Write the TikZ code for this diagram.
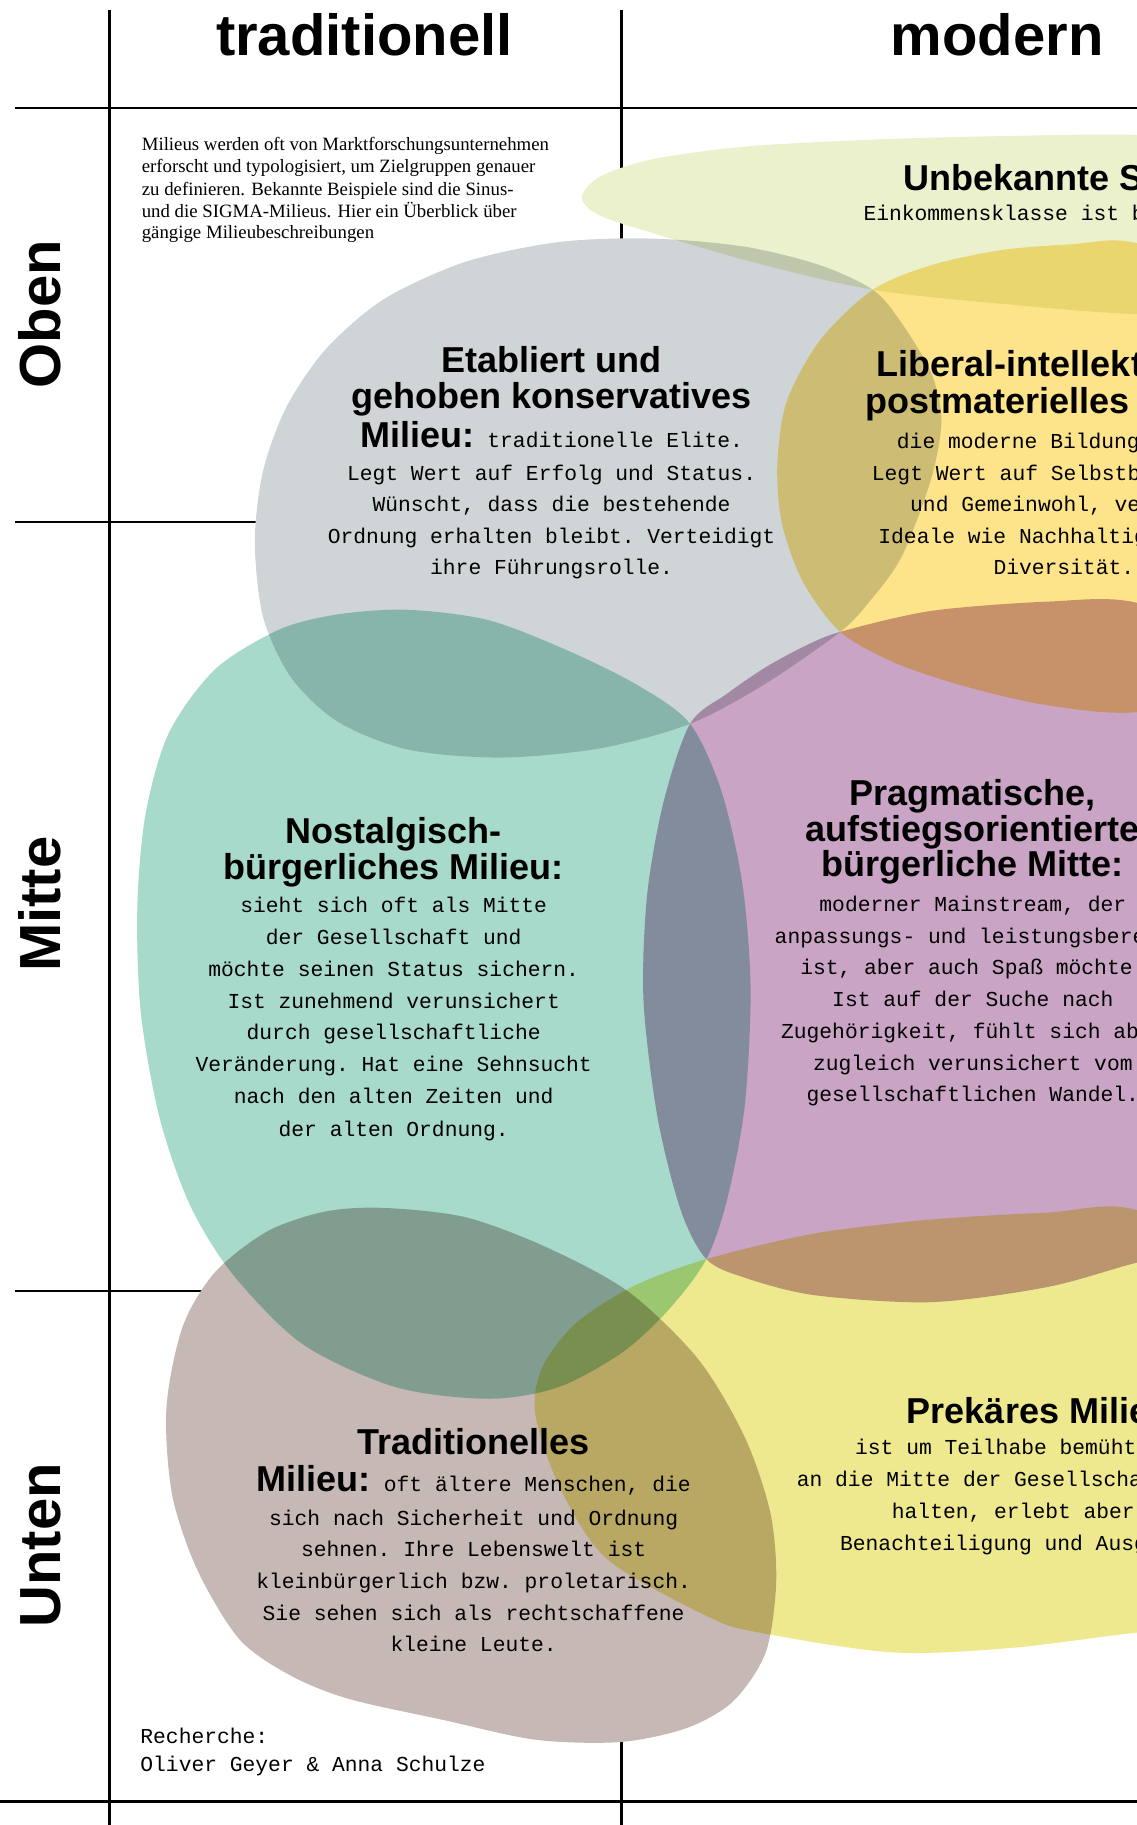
\documentclass[tikz,border=0pt]{standalone}
\usepackage{fontspec}
\setmainfont{Liberation Sans}
\setmonofont{Liberation Mono}
\newfontfamily\seriffont{Liberation Serif}
\newcommand\monotxt{\ttfamily\fontsize{21.3}{31.7}\selectfont}
\definecolor{cgray}{HTML}{CFD4D6}
\definecolor{cteal}{HTML}{A7DACB}
\definecolor{cpurple}{HTML}{C9A4C4}
\definecolor{clib}{HTML}{FDE48B}
\definecolor{cgreen}{HTML}{EBF0CD}
\definecolor{cprek}{HTML}{EEE98E}
\definecolor{cbrown}{HTML}{C6B8B4}
\begin{document}
\begin{tikzpicture}[x=1.1637pt,y=-1.1637pt,
  head/.style={font=\fontsize{58}{60}\selectfont\bfseries, anchor=base, inner sep=0pt},
  ttl/.style={font=\fontsize{36}{37}\selectfont\bfseries, anchor=base, inner sep=0pt},
  body/.style={font=\monotxt, anchor=base, inner sep=0pt},
  intro/.style={font=\seriffont\fontsize{18.8}{22.2}\selectfont, anchor=base west, inner sep=0pt},
  gridthick/.style={line width=2.5pt, black},
  gridthin/.style={line width=1.8pt, black}]
\useasboundingbox (0,0) rectangle (977.05,1568.3);
\clip (0,0) rectangle (977.05,1568.3);

% grid
\coordinate (v1t) at (94,8.6);    \coordinate (v1b) at (94,1570);
\coordinate (v2t) at (534,8.6);   \coordinate (v2b) at (534,1570);
\coordinate (h1l) at (12.5,92.8); \coordinate (h1r) at (980,92.8);
\coordinate (h2l) at (12.9,448.6); \coordinate (h2r) at (300,448.6);
\coordinate (h3l) at (12.9,1109.4); \coordinate (h3r) at (300,1109.4);
\coordinate (h4l) at (0,1548.3); \coordinate (h4r) at (980,1548.3);
\draw[gridthick] (v1t) -- (v1b);
\draw[gridthick] (v2t) -- (v2b);
\draw[gridthick] (h1l) -- (h1r);
\draw[gridthin] (h2l) -- (h2r);
\draw[gridthin] (h3l) -- (h3r);
\draw[gridthick] (h4l) -- (h4r);

% shapes
\path[save path=\pGreen] plot[smooth cycle] coordinates {(500,170) (515,152) (560,137) (640,126) (750,120) (860,117) (977,116) (1080,125) (1130,195) (1080,268) (977,270) (860,261) (750,249) (650,226) (560,200) (515,185)};
\path[save path=\pGray] plot[smooth cycle] coordinates {(560,205) (640,212) (705,228) (750,249) (773,275) (800,320) (809,361) (800,412) (775,478) (748,516) (722,543) (657,588) (593,622) (516,643) (430,651) (350,644) (290,620) (250,582) (226,530) (219,465) (226,405) (246,350) (280,300) (330,257) (400,225) (480,208)};
\path[save path=\pLib] plot[smooth cycle] coordinates {(750,249) (800,228) (860,215) (920,210) (977,209) (1080,250) (1130,420) (1080,590) (977,612) (900,606) (830,590) (770,570) (722,543) (690,500) (672,450) (668,400) (676,345) (705,292)};
\path[save path=\pTeal] plot[smooth cycle] coordinates {(350,524) (420,533) (490,560) (550,590) (593,622) (620,680) (638,760) (645,850) (640,950) (625,1030) (607,1082) (575,1125) (535,1162) (480,1192) (420,1202) (340,1192) (260,1155) (200,1095) (163,1035) (137,960) (121,870) (118,780) (125,700) (145,630) (185,575) (240,541) (290,528)};
\path[save path=\pPurple] plot[smooth cycle] coordinates {(593,622) (625,596) (657,574) (690,556) (722,543) (800,525) (900,517) (977,518) (1080,560) (1130,800) (1080,1060) (977,1085) (900,1106) (800,1119) (700,1113) (640,1098) (607,1082) (585,1040) (565,960) (553,860) (556,770) (570,690)};
\path[save path=\pBrown] plot[smooth cycle] coordinates {(330,1038) (400,1046) (470,1072) (540,1110) (600,1168) (640,1235) (662,1300) (667,1360) (658,1420) (630,1462) (590,1485) (533,1497) (460,1495) (381,1478) (300,1460) (250,1440) (206,1409) (170,1350) (148,1285) (143,1210) (157,1140) (185,1093) (230,1058) (280,1041)};
\path[save path=\pPrek] plot[smooth cycle] coordinates {(607,1082) (700,1060) (800,1048) (900,1042) (977,1040) (1080,1100) (1130,1260) (1080,1395) (977,1403) (870,1416) (767,1420) (653,1403) (610,1390) (522,1340) (481,1278) (460,1215) (466,1175) (495,1137) (545,1105)};

\fill[white, use path=\pGreen];
\fill[white, use path=\pGray];
\fill[white, use path=\pLib];
\fill[white, use path=\pTeal];
\fill[white, use path=\pPurple];
\fill[white, use path=\pBrown];
\fill[white, use path=\pPrek];
\begin{scope}[blend mode=multiply]
\fill[cgreen, use path=\pGreen];
\fill[cgray, use path=\pGray];
\fill[clib, use path=\pLib];
\fill[cteal, use path=\pTeal];
\fill[cpurple, use path=\pPurple];
\fill[cbrown, use path=\pBrown];
\fill[cprek, use path=\pPrek];
\end{scope}

% headers
\node[head] (htrad) at (313,47.3) {traditionell};
\node[head] (hmod) at (857,47.3) {modern};
\node[head, rotate=90] (roben) at (52.4,270) {Oben};
\node[head, rotate=90] (rmitte) at (52.4,777) {Mitte};
\node[head, rotate=90] (runten) at (52.4,1328) {Unten};

% intro
\node[intro] (i1) at (121.7,128.9) {Milieus werden oft von Marktforschungsunternehmen};
\node[intro] (i2) at (121.7,148.4) {erforscht und typologisiert, um Zielgruppen genauer};
\node[intro] (i3) at (121.7,167.6) {zu definieren. Bekannte Beispiele sind die Sinus-};
\node[intro] (i4) at (121.7,186.7) {und die SIGMA-Milieus. Hier ein Überblick über};
\node[intro] (i5) at (121.7,204.8) {gängige Milieubeschreibungen};

% Unbekannte
\node[ttl, anchor=base west] (u1) at (776.2,163.3) {Unbekannte Schicht:};
\node[body, anchor=base west] (u2) at (741.9,189.5) {Einkommensklasse ist bekannt};

% Etabliert
\node[ttl] (e1) at (474,320.3) {Etabliert und};
\node[ttl] (e2) at (474,350.9) {gehoben konservatives};
\node[ttl] (e3) at (474,384.3) {Milieu: {\monotxt\mdseries traditionelle Elite.}};
\node[body] (e4) at (474,412.5) {Legt Wert auf Erfolg und Status.};
\node[body] (e5) at (474,439.7) {Wünscht, dass die bestehende};
\node[body] (e6) at (474,466.9) {Ordnung erhalten bleibt. Verteidigt};
\node[body] (e7) at (474,494.1) {ihre Führungsrolle.};

% Liberal
\node[ttl, anchor=base west] (l1) at (753.4,323.7) {Liberal-intellektuelles};
\node[ttl, anchor=base west] (l2) at (743.3,355) {postmaterielles Milieu:};
\node[body, anchor=base west] (l3) at (770.6,385) {die moderne Bildungselite.};
\node[body, anchor=base west] (l4) at (749.1,412.5) {Legt Wert auf Selbstbestimmung};
\node[body, anchor=base west] (l5) at (782,439.7) {und Gemeinwohl, vertritt};
\node[body, anchor=base west] (l6) at (754.7,466.9) {Ideale wie Nachhaltigkeit und};
\node[body, anchor=base west] (l7) at (853.6,494.1) {Diversität.};

% Nostalgisch
\node[ttl] (n1) at (338.3,724.7) {Nostalgisch-};
\node[ttl] (n2) at (338.3,756.2) {bürgerliches Milieu:};
\node[body] (n3) at (338.3,784.3) {sieht sich oft als Mitte};
\node[body] (n4) at (338.3,812) {der Gesellschaft und};
\node[body] (n5) at (338.3,839.3) {möchte seinen Status sichern.};
\node[body] (n6) at (338.3,866.5) {Ist zunehmend verunsichert};
\node[body] (n7) at (338.3,893.7) {durch gesellschaftliche};
\node[body] (n8) at (338.3,920.9) {Veränderung. Hat eine Sehnsucht};
\node[body] (n9) at (338.3,948.7) {nach den alten Zeiten und};
\node[body] (n10) at (338.3,976.2) {der alten Ordnung.};

% Pragmatische
\node[ttl] (p1) at (836,691.8) {Pragmatische,};
\node[ttl] (p2) at (836,722.7) {aufstiegsorientierte};
\node[ttl] (p3) at (836,753.6) {bürgerliche Mitte:};
\node[body] (p4) at (836,783.4) {moderner Mainstream, der};
\node[body] (p5) at (836,810.6) {anpassungs- und leistungsbereit};
\node[body] (p6) at (836,837.8) {ist, aber auch Spaß möchte.};
\node[body] (p7) at (836,865) {Ist auf der Suche nach};
\node[body] (p8) at (836,892.3) {Zugehörigkeit, fühlt sich aber};
\node[body] (p9) at (836,919.5) {zugleich verunsichert vom};
\node[body] (p10) at (836,946.7) {gesellschaftlichen Wandel.};

% Traditionelles
\node[ttl] (t1) at (407,1250.3) {Traditionelles};
\node[ttl] (t2) at (407,1281.8) {Milieu: {\monotxt\mdseries oft ältere Menschen, die}};
\node[body] (t3) at (407,1310.5) {sich nach Sicherheit und Ordnung};
\node[body] (t4) at (407,1337.7) {sehnen. Ihre Lebenswelt ist};
\node[body] (t5) at (407,1364.9) {kleinbürgerlich bzw. proletarisch.};
\node[body] (t6) at (407,1392.7) {Sie sehen sich als rechtschaffene};
\node[body] (t7) at (407,1419.3) {kleine Leute.};

% Prekär
\node[ttl, anchor=base west] (k1) at (779.2,1223.1) {Prekäres Milieu:};
\node[body, anchor=base west] (k2) at (734.7,1250.3) {ist um Teilhabe bemüht};
\node[body, anchor=base west] (k3) at (684.6,1277.5) {an die Mitte der Gesellschaft};
\node[body, anchor=base west] (k4) at (766.3,1304.7) {halten, erlebt aber};
\node[body, anchor=base west] (k5) at (721.8,1332) {Benachteiligung und Ausgrenzung.};

% Recherche
\node[body, anchor=base west] (r1) at (120.5,1498.6) {Recherche:};
\node[body, anchor=base west] (r2) at (120.5,1522.4) {Oliver Geyer \& Anna Schulze};
\end{tikzpicture}
\end{document}
